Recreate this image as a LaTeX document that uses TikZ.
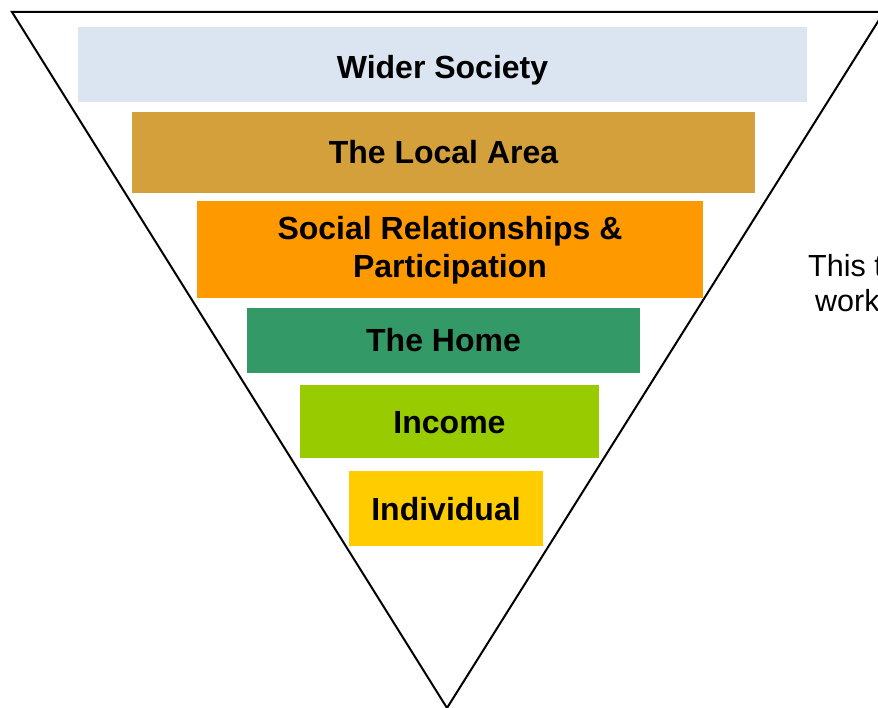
\documentclass[tikz,border=0pt]{standalone}
\usepackage{fontspec}
\setmainfont{Liberation Sans}
\definecolor{wider}{HTML}{DBE5F1}
\definecolor{localarea}{HTML}{D3A03C}
\definecolor{social}{HTML}{FF9900}
\definecolor{home}{HTML}{339966}
\definecolor{income}{HTML}{99CC00}
\definecolor{individual}{HTML}{FFCC00}
\begin{document}
\begin{tikzpicture}[x=1pt,y=-1pt]
\tikzstyle{layer}=[rectangle,inner sep=0pt,align=center,text height=23pt,text depth=0pt,
  font=\fontsize{32}{38}\selectfont\bfseries]
\tikzstyle{note}=[anchor=base west,inner sep=0pt,font=\fontsize{30.5}{35}\selectfont]
\useasboundingbox (0,0) rectangle (878,708);

  %--- funnel ---
  \coordinate (tl) at (12,12);
  \coordinate (tr) at (884,12);
  \coordinate (tip) at (447,708);
  \draw[line width=2pt] (tl) -- (tr) -- (tip) -- cycle;

  %--- layers ---
  \node[layer, fill=wider, minimum width=729pt, minimum height=75pt, text height=29pt] (wider) at (442.5,64.5) {Wider Society};
  \node[layer, fill=localarea, minimum width=623pt, minimum height=81pt] (area) at (443.5,152.5) {The Local Area};
  \node[layer, fill=social, minimum width=506pt, minimum height=97pt, text height=57pt] (social) at (450,249.5) {Social Relationships \&\\Participation};
  \node[layer, fill=home, minimum width=393pt, minimum height=65pt] (home) at (443.5,340.5) {The Home};
  \node[layer, fill=income, minimum width=299pt, minimum height=73pt] (income) at (449.5,421.5) {Income};
  \node[layer, fill=individual, minimum width=194pt, minimum height=75pt] (individual) at (446,508.5) {Individual};

  %--- side text ---
  \node[note] (this) at (808,277) {This t};
  \node[note] (work) at (815,312) {work};
\end{tikzpicture}
\end{document}
